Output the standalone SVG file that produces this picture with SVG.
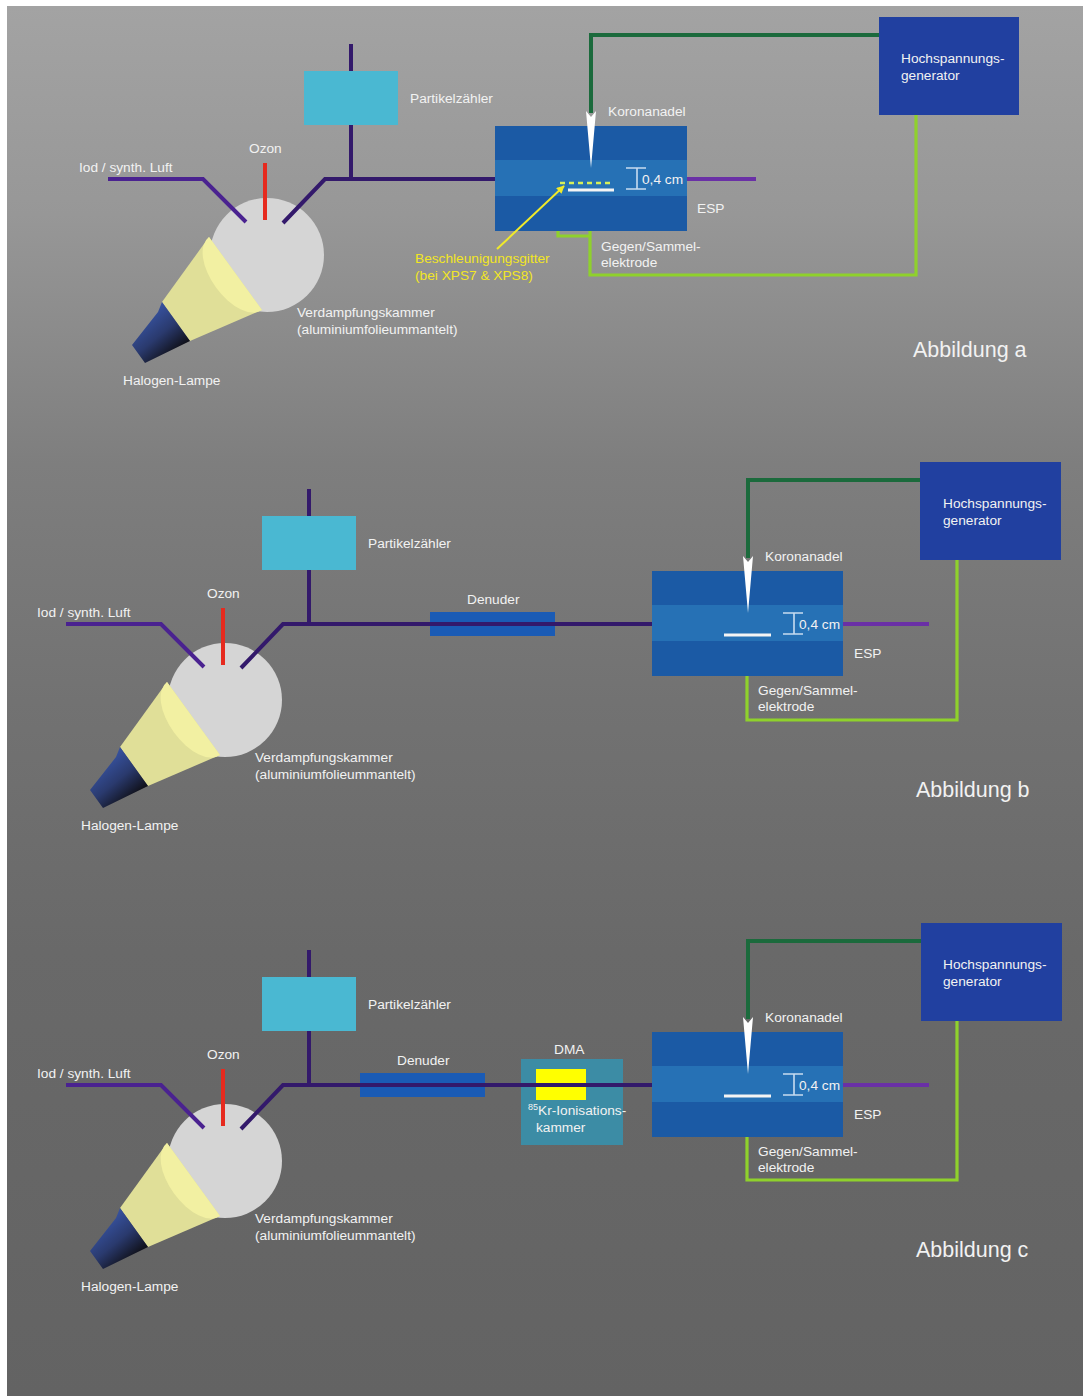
<svg xmlns="http://www.w3.org/2000/svg" xmlns:xlink="http://www.w3.org/1999/xlink" width="1083" height="1396" viewBox="0 0 1083 1396">
  <defs>
    <linearGradient id="bg" x1="0" y1="0" x2="0" y2="1">
      <stop offset="0" stop-color="#a3a3a3"/>
      <stop offset="0.15" stop-color="#979797"/>
      <stop offset="0.33" stop-color="#7e7e7e"/>
      <stop offset="0.5" stop-color="#727272"/>
      <stop offset="0.68" stop-color="#696969"/>
      <stop offset="1" stop-color="#636363"/>
    </linearGradient>
    <linearGradient id="lampBody" x1="0.25" y1="0.1" x2="0.8" y2="0.8">
      <stop offset="0" stop-color="#3a58ab"/>
      <stop offset="0.55" stop-color="#2a3a6e"/>
      <stop offset="1" stop-color="#0f0f16"/>
    </linearGradient>
    <marker id="tipY" viewBox="0 0 10 10" refX="9" refY="5" markerWidth="4" markerHeight="4" orient="auto">
      <path d="M0 0 L10 5 L0 10 z" fill="#f0ea2a"/>
    </marker>
    <!-- halogen lamp with its light cone (drawn at the first chamber's position) -->
    <g id="lampShape">
      <polygon points="162,302 209,237 262,310 190,341" fill="#e0df98"/>
      <path d="M209 237 A45 24 54 0 0 262 310 Z" fill="#f2f0a2"/>
      <polygon points="162,302 158,312 132,345 145,363 190,341" fill="url(#lampBody)"/>
    </g>
    <!-- corona needle (tip pointing down) -->
    <polygon id="needleShape" points="586,111 591,117 596,111 591,168" fill="#ffffff"/>
    <!-- 0,4 cm gap marker -->
    <path id="gapMark" d="M626 168 H646 M637 168 V189 M626 189 H646" fill="none" stroke="#c8dcf0" stroke-width="1.6"/>
  </defs>

  <style>
    .lbl { font-family: "Liberation Sans", Arial, sans-serif; font-size: 13.7px; fill: #f2f2f2; }
    .ttl { font-size: 21.5px; }
    .ylw { fill: #f2e624; }
    .flow { fill: none; stroke: #33196b; stroke-width: 4; }
    .inlet { fill: none; stroke: #4a2290; stroke-width: 4; }
    .outlet { fill: none; stroke: #6a30a6; stroke-width: 4; }
    .ozon { fill: none; stroke: #e62a1e; stroke-width: 4; }
    .hv { fill: none; stroke: #1b6a3c; stroke-width: 4; }
    .gnd { fill: none; stroke: #8fd12c; stroke-width: 3.2; }
    .chamber { fill: #d5d5d5; }
    .pz { fill: #4ab8d2; }
    .den { fill: #1a5bb5; }
    .dma { fill: #3c8ca5; }
    .kr { fill: #ffff00; }
    .esp { fill: #1b5aa5; }
    .espband { fill: #2671b5; }
    .gen { fill: #2140a0; }
    .plate { stroke: #f4f4f4; stroke-width: 3; }
    .grid { stroke: #d6ef5a; stroke-width: 2.5; stroke-dasharray: 5 4; }
  </style>

  <rect x="0" y="0" width="1083" height="1396" fill="#ffffff"/>
  <rect x="7" y="6" width="1076" height="1390" fill="url(#bg)"/>

  <!-- ===================== Abbildung a ===================== -->
  <g id="panel-a">
    <g id="a-connectors">
      <path class="flow" d="M351 44 V179"/>
      <path class="hv" d="M591 113 V35 H881"/>
      <path class="gnd" d="M590 190 V275 H916 V113"/>
      <path class="gnd" d="M558 183 V236 H590"/>
    </g>
    <g id="a-chamber">
      <circle class="chamber" cx="267" cy="255" r="57"/>
      <text class="lbl" x="297" y="317">Verdampfungskammer</text>
      <text class="lbl" x="297" y="334">(aluminiumfolieummantelt)</text>
    </g>
    <g id="a-lamp">
      <use xlink:href="#lampShape" href="#lampShape"/>
      <text class="lbl" x="123" y="385">Halogen-Lampe</text>
    </g>
    <g id="a-flow">
      <path class="inlet" d="M108 179 H203 L246 222"/>
      <path class="ozon" d="M265 163 V220"/>
      <path class="flow" d="M283 223 L325 179 H500"/>
      <path class="outlet" d="M684 179 H756"/>
      <text class="lbl" x="79" y="172">Iod / synth. Luft</text>
      <text class="lbl" x="249" y="153">Ozon</text>
    </g>
    <g id="a-counter">
      <rect class="pz" x="304" y="71" width="94" height="54"/>
      <text class="lbl" x="410" y="103">Partikelzähler</text>
    </g>
    <g id="a-esp">
      <rect class="esp" x="495" y="126" width="192" height="105"/>
      <rect class="espband" x="495" y="160" width="192" height="36"/>
      <use xlink:href="#needleShape" href="#needleShape"/>
      <line class="grid" x1="560" y1="183" x2="614" y2="183"/>
      <line class="plate" x1="568" y1="190" x2="614" y2="190"/>
      <use xlink:href="#gapMark" href="#gapMark"/>
      <text class="lbl" x="642" y="184">0,4 cm</text>
      <text class="lbl" x="697" y="213">ESP</text>
      <text class="lbl" x="608" y="116">Koronanadel</text>
      <text class="lbl" x="601" y="251">Gegen/Sammel-</text>
      <text class="lbl" x="601" y="267">elektrode</text>
    </g>
    <g id="a-grid-label">
      <line x1="497" y1="249" x2="564" y2="186" stroke="#f0ea2a" stroke-width="2" marker-end="url(#tipY)"/>
      <text class="lbl ylw" x="415" y="263">Beschleunigungsgitter</text>
      <text class="lbl ylw" x="415" y="280">(bei XPS7 &amp; XPS8)</text>
    </g>
    <g id="a-generator">
      <rect class="gen" x="879" y="17" width="140" height="98"/>
      <text class="lbl" x="901" y="63">Hochspannungs-</text>
      <text class="lbl" x="901" y="80">generator</text>
    </g>
    <text class="lbl ttl" x="913" y="357">Abbildung a</text>
  </g>

  <!-- ===================== Abbildung b ===================== -->
  <g id="panel-b">
    <g id="b-connectors">
      <path class="flow" d="M309 489 V624"/>
      <path class="hv" d="M748 558 V480 H922"/>
      <path class="gnd" d="M747 635 V720 H957 V558"/>
    </g>
    <g id="b-chamber">
      <circle class="chamber" cx="225" cy="700" r="57"/>
      <text class="lbl" x="255" y="762">Verdampfungskammer</text>
      <text class="lbl" x="255" y="779">(aluminiumfolieummantelt)</text>
    </g>
    <g id="b-lamp">
      <use xlink:href="#lampShape" href="#lampShape" transform="translate(-42,445)"/>
      <text class="lbl" x="81" y="830">Halogen-Lampe</text>
    </g>
    <g id="b-denuder">
      <rect class="den" x="430" y="612" width="125" height="24"/>
      <text class="lbl" x="467" y="604">Denuder</text>
    </g>
    <g id="b-flow">
      <path class="inlet" d="M66 624 H161 L204 667"/>
      <path class="ozon" d="M223 608 V665"/>
      <path class="flow" d="M241 668 L283 624 H656"/>
      <path class="outlet" d="M841 624 H929"/>
      <text class="lbl" x="37" y="617">Iod / synth. Luft</text>
      <text class="lbl" x="207" y="598">Ozon</text>
    </g>
    <g id="b-counter">
      <rect class="pz" x="262" y="516" width="94" height="54"/>
      <text class="lbl" x="368" y="548">Partikelzähler</text>
    </g>
    <g id="b-esp">
      <rect class="esp" x="652" y="571" width="191" height="105"/>
      <rect class="espband" x="652" y="605" width="191" height="36"/>
      <use xlink:href="#needleShape" href="#needleShape" transform="translate(157,445)"/>
      <line class="plate" x1="724" y1="635" x2="771" y2="635"/>
      <use xlink:href="#gapMark" href="#gapMark" transform="translate(157,445)"/>
      <text class="lbl" x="799" y="629">0,4 cm</text>
      <text class="lbl" x="854" y="658">ESP</text>
      <text class="lbl" x="765" y="561">Koronanadel</text>
      <text class="lbl" x="758" y="695">Gegen/Sammel-</text>
      <text class="lbl" x="758" y="711">elektrode</text>
    </g>
    <g id="b-generator">
      <rect class="gen" x="920" y="462" width="141" height="98"/>
      <text class="lbl" x="943" y="508">Hochspannungs-</text>
      <text class="lbl" x="943" y="525">generator</text>
    </g>
    <text class="lbl ttl" x="916" y="797">Abbildung b</text>
  </g>

  <!-- ===================== Abbildung c ===================== -->
  <g id="panel-c">
    <g id="c-connectors">
      <path class="flow" d="M309 950 V1085"/>
      <path class="hv" d="M748 1019 V941 H923"/>
      <path class="gnd" d="M747 1096 V1180 H957 V1019"/>
    </g>
    <g id="c-chamber">
      <circle class="chamber" cx="225" cy="1161" r="57"/>
      <text class="lbl" x="255" y="1223">Verdampfungskammer</text>
      <text class="lbl" x="255" y="1240">(aluminiumfolieummantelt)</text>
    </g>
    <g id="c-lamp">
      <use xlink:href="#lampShape" href="#lampShape" transform="translate(-42,906)"/>
      <text class="lbl" x="81" y="1291">Halogen-Lampe</text>
    </g>
    <g id="c-denuder">
      <rect class="den" x="360" y="1073" width="125" height="24"/>
      <text class="lbl" x="397" y="1065">Denuder</text>
    </g>
    <g id="c-dma">
      <rect class="dma" x="521" y="1059" width="102" height="86"/>
      <rect class="kr" x="536" y="1069" width="50" height="31"/>
      <text class="lbl" x="554" y="1054">DMA</text>
    </g>
    <g id="c-flow">
      <path class="inlet" d="M66 1085 H161 L204 1128"/>
      <path class="ozon" d="M223 1069 V1126"/>
      <path class="flow" d="M241 1129 L283 1085 H656"/>
      <path class="outlet" d="M841 1085 H929"/>
      <text class="lbl" x="37" y="1078">Iod / synth. Luft</text>
      <text class="lbl" x="207" y="1059">Ozon</text>
    </g>
    <g id="c-dma-label">
      <text class="lbl" x="528" y="1115"><tspan font-size="9" dy="-5">85</tspan><tspan dy="5">Kr-Ionisations-</tspan></text>
      <text class="lbl" x="536" y="1132">kammer</text>
    </g>
    <g id="c-counter">
      <rect class="pz" x="262" y="977" width="94" height="54"/>
      <text class="lbl" x="368" y="1009">Partikelzähler</text>
    </g>
    <g id="c-esp">
      <rect class="esp" x="652" y="1032" width="191" height="105"/>
      <rect class="espband" x="652" y="1066" width="191" height="36"/>
      <use xlink:href="#needleShape" href="#needleShape" transform="translate(157,906)"/>
      <line class="plate" x1="724" y1="1096" x2="771" y2="1096"/>
      <use xlink:href="#gapMark" href="#gapMark" transform="translate(157,906)"/>
      <text class="lbl" x="799" y="1090">0,4 cm</text>
      <text class="lbl" x="854" y="1119">ESP</text>
      <text class="lbl" x="765" y="1022">Koronanadel</text>
      <text class="lbl" x="758" y="1156">Gegen/Sammel-</text>
      <text class="lbl" x="758" y="1172">elektrode</text>
    </g>
    <g id="c-generator">
      <rect class="gen" x="921" y="923" width="141" height="98"/>
      <text class="lbl" x="943" y="969">Hochspannungs-</text>
      <text class="lbl" x="943" y="986">generator</text>
    </g>
    <text class="lbl ttl" x="916" y="1257">Abbildung c</text>
  </g>
</svg>
